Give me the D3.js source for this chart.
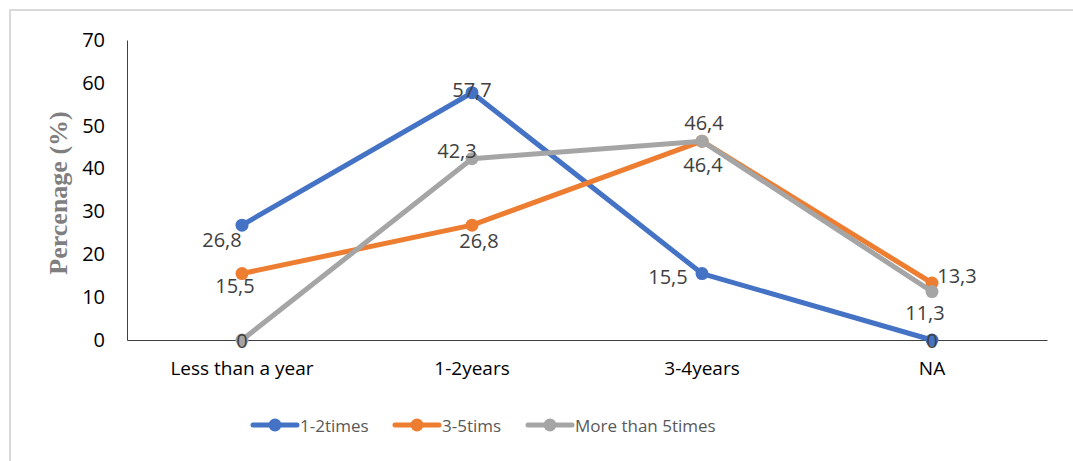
<!DOCTYPE html>
<html>
<head>
<meta charset="utf-8">
<script src="https://cdn.jsdelivr.net/npm/d3@7"></script>
<style>
  body { margin: 0; background: #fff; }
  svg text { font-family: "Open Sans", "Liberation Sans", sans-serif; }
</style>
</head>
<body>
<div id="vis-container"></div>
<script>
// chart data
const categories = ["Less than a year", "1-2years", "3-4years", "NA"];
const seriesNames = ["1-2times", "3-5tims", "More than 5times"];
const onceTwice = [26.8, 57.7, 15.5, 0];
const threeFive = [15.5, 26.8, 46.4, 13.3];
const moreThanFive = [0, 42.3, 46.4, 11.3];
const yTicks = [0, 10, 20, 30, 40, 50, 60, 70];

// label nudges (px) per series / point, like the dragged labels in the original
const labelShift = [
  [[-20, 14], [0, -3], [-34, 3], [0, 0]],
  [[-7, 12], [7, 15], [1, 23], [25, -8]],
  [[0, 0], [-15, -8], [2, -19], [-7, 21]]
];

const width = 1073;
const height = 461;
const margin = {left: 127, right: 26, top: 40, bottom: 121};
const colors = ["#4472C4", "#ED7D31", "#A5A5A5"];

const svg = d3.select("#vis-container")
  .append("svg")
  .attr("width", width)
  .attr("height", height);

// outer frame (only top/left edge visible in the original)
svg.append("path")
  .attr("d", `M10,${height} V10 H${width}`)
  .attr("fill", "none")
  .attr("stroke", "#d9d9d9")
  .attr("stroke-width", 2);

let x = d3.scaleBand()
  .domain(categories)
  .range([margin.left, width - margin.right]);

let y = d3.scaleLinear()
  .domain([0, 70])
  .range([height - margin.bottom, margin.top]);

// y axis
svg.append("g")
  .attr("transform", `translate(${margin.left},0)`)
  .call(d3.axisLeft(y).tickValues(yTicks).tickSize(0).tickPadding(22))
  .call(g => g.select(".domain").attr("stroke", "#404040"))
  .call(g => g.selectAll("text")
    .attr("font-size", "20px")
    .attr("fill", "#000")
    .attr("font-family", "Open Sans"));

// x axis
svg.append("g")
  .attr("transform", `translate(0,${height - margin.bottom})`)
  .call(d3.axisBottom(x).tickSize(0).tickPadding(22))
  .call(g => g.select(".domain").attr("stroke", "#404040"))
  .call(g => g.selectAll("text")
    .attr("font-size", "19px")
    .attr("fill", "#000")
    .attr("font-family", "Open Sans"));

// y label
svg.append("text")
  .attr("transform", `translate(67,193) rotate(-90)`)
  .attr("text-anchor", "middle")
  .style("font-family", "'Liberation Serif', serif")
  .attr("font-weight", "bold")
  .attr("font-size", "26px")
  .attr("fill", "#7f7f7f")
  .text("Percenage (%)");

const allSeries = [onceTwice, threeFive, moreThanFive];
const cx = c => x(c) + x.bandwidth() / 2;

const line = d3.line()
  .x((d, i) => cx(categories[i]))
  .y(d => y(d));

allSeries.forEach((vals, s) => {
  svg.append("path")
    .datum(vals)
    .attr("fill", "none")
    .attr("stroke", colors[s])
    .attr("stroke-width", 5)
    .attr("stroke-linejoin", "round")
    .attr("d", line);

  svg.selectAll(".dot" + s)
    .data(vals)
    .enter()
    .append("circle")
    .attr("cx", (d, i) => cx(categories[i]))
    .attr("cy", d => y(d))
    .attr("r", 6.5)
    .attr("fill", colors[s]);
});

// data labels on top of everything
allSeries.forEach((vals, s) => {
  svg.selectAll(".lab" + s)
    .data(vals)
    .enter()
    .append("text")
    .attr("x", (d, i) => cx(categories[i]) + labelShift[s][i][0])
    .attr("y", (d, i) => y(d) + labelShift[s][i][1])
    .attr("text-anchor", "middle")
    .attr("dominant-baseline", "central")
    .attr("font-size", "20px")
    .attr("fill", "#404040")
    .text(d => String(d).replace(".", ","));
});

// legend
const legendX = [253, 395, 528];
const legend = svg.append("g").attr("transform", "translate(0,425)");
seriesNames.forEach((name, s) => {
  const g = legend.append("g").attr("transform", `translate(${legendX[s]},0)`);
  g.append("line")
    .attr("x1", 0).attr("x2", 44)
    .attr("stroke", colors[s])
    .attr("stroke-width", 5)
    .attr("stroke-linecap", "round");
  g.append("circle")
    .attr("cx", 22).attr("r", 6.5)
    .attr("fill", colors[s]);
  g.append("text")
    .attr("x", 47)
    .attr("dominant-baseline", "central")
    .attr("font-size", "17px")
    .attr("fill", "#595959")
    .text(name);
});
</script>
</body>
</html>
